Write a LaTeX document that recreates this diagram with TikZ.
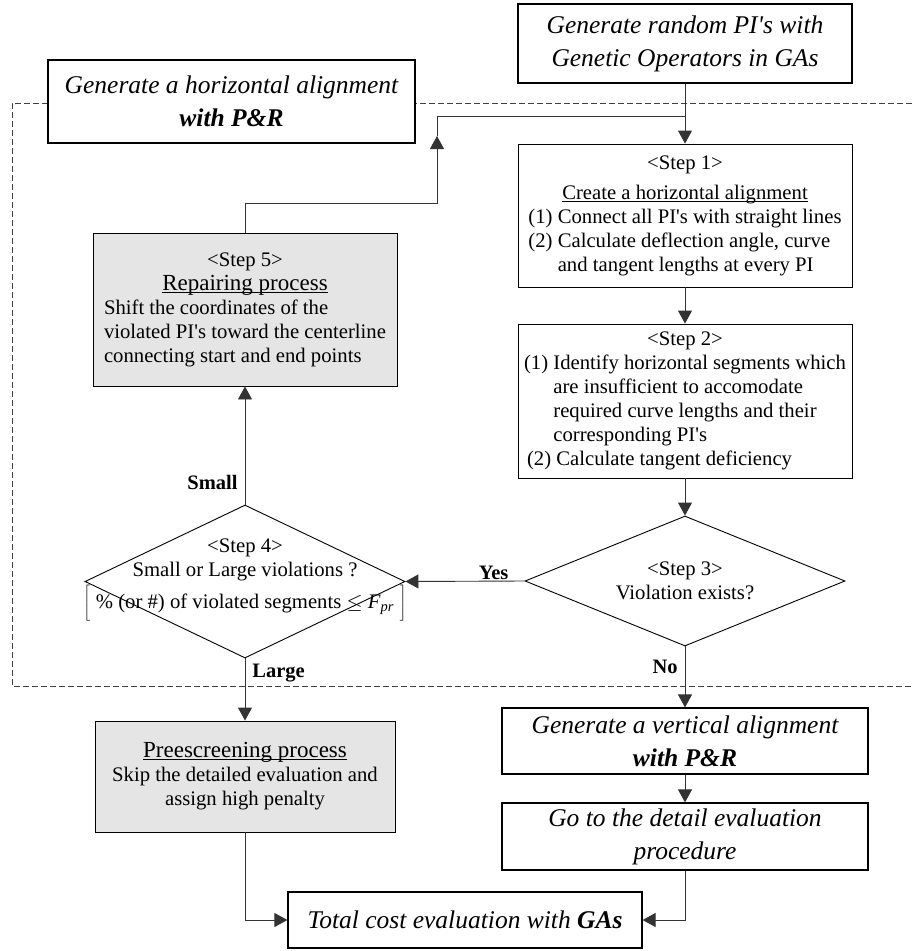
\documentclass[tikz,border=0pt]{standalone}
\usepackage{fontspec}
\setmainfont{Liberation Serif}
\usetikzlibrary{shapes.geometric,arrows.meta}
\newcommand{\bodyfont}{\fontsize{20.7}{24}\selectfont}
\newcommand{\headfont}{\fontsize{25.5}{33}\selectfont\itshape}
\newcommand{\titlefont}{\fontsize{23}{26}\selectfont}
\newcommand{\ctr}[1]{\multicolumn{1}{@{}c@{}}{#1}}
\newcommand{\ap}{\textquotesingle}
\newcommand{\uln}[1]{\underline{\raisebox{0pt}[\height][0pt]{#1}}}
\tikzset{
  box/.style={draw, line width=1.2pt, fill=white, inner sep=0pt, align=center},
  greybox/.style={box, fill=black!10},
  decision/.style={draw, diamond, line width=0.9pt, inner sep=0pt, fill=white},
  line/.style={draw=black!80, line width=0.9pt},
  arrow/.style={line, -{Triangle[length=13pt,width=14pt]}},
  tag/.style={font=\fontsize{20.5}{24}\selectfont\bfseries, inner sep=0pt},
  frame/.style={draw=black!75, line width=0.8pt, dash pattern=on 6pt off 3pt},
}
\begin{document}
\begin{tikzpicture}[x=1pt,y=-1pt]
  \useasboundingbox (0,0) rectangle (912,951);
  \draw[frame] (912,103) -- (12,103) -- (12,686) -- (912,686);
  \node[box, minimum width=334pt, minimum height=79pt, font=\headfont] (gen) at (685,43.5) {Generate random PI\ap s with\\Genetic Operators in GAs};
  \node[box, minimum width=367pt, minimum height=83pt, font=\headfont] (hor) at (231.5,101.5) {Generate a horizontal alignment\\\textbf{with P\&R}};
  \node[box, line width=0.9pt, minimum width=334pt, minimum height=143pt, font=\bodyfont] (s1) at (685,215.5) {\begin{tabular}{@{}l@{}}
    \ctr{<Step 1>}\\[6pt]
    \ctr{\uln{Create a horizontal alignment}}\\
    (1) Connect all PI\ap s with straight lines\\
    (2) Calculate deflection angle, curve\\
    \phantom{(2) }and tangent lengths at every PI
  \end{tabular}};
  \node[box, line width=0.9pt, minimum width=334pt, minimum height=154pt, font=\bodyfont] (s2) at (685,401) {\begin{tabular}{@{}l@{}}
    \ctr{<Step 2>}\\
    (1) Identify horizontal segments which\\
    \phantom{(1) }are insufficient to accomodate\\
    \phantom{(1) }required curve lengths and their\\
    \phantom{(1) }corresponding PI\ap s\\
    \hspace*{3pt}(2) Calculate tangent deficiency
  \end{tabular}};
  \node[decision, minimum width=320pt, minimum height=130pt] (s3) at (685,581) {};
  \node[font=\bodyfont, align=center, inner sep=0pt] (s3t) at (s3.center) {<Step 3>\\Violation exists?};
  \node[decision, minimum width=320pt, minimum height=153pt] (s4) at (245,581.5) {};
  \node[font=\bodyfont, align=center, inner sep=0pt] (s4t) at (245,580) {<Step 4>\\Small or Large violations ?\\[4pt]$\left[\rule[-9pt]{0pt}{31pt}\mbox{\;\% (or \#) of violated segments $\leq$ \textit{F}\textsubscript{\textit{pr}}\;}\right]$};
  \node[greybox, line width=0.9pt, minimum width=304pt, minimum height=153pt, font=\bodyfont] (s5) at (245,309.5) {\begin{tabular}{@{}l@{}}
    \ctr{<Step 5>}\\
    \ctr{\titlefont\uln{Repairing process}}\\
    Shift the coordinates of the\\
    violated PI\ap s toward the centerline\\
    connecting start and end points
  \end{tabular}};
  \node[greybox, line width=0.9pt, minimum width=300pt, minimum height=111pt, font=\bodyfont] (pre) at (245,776.5) {{\titlefont\uln{Preescreening process}}\\Skip the detailed evaluation and\\assign high penalty};
  \node[box, minimum width=366pt, minimum height=66pt, font=\headfont] (ver) at (685,741) {Generate a vertical alignment\\\textbf{with P\&R}};
  \node[box, minimum width=366pt, minimum height=67pt, font=\headfont] (det) at (685,836.5) {Go to the detail evaluation\\procedure};
  \node[box, minimum width=354pt, minimum height=56pt, font=\headfont] (tot) at (465,920) {Total cost evaluation with \textbf{GAs}};
  % connectors
  \coordinate (c1) at (437,203);
  \coordinate (c2) at (437,136);
  \coordinate (c3) at (685,116);
  \draw[arrow] (gen) -- (s1);
  \draw[arrow] (s1) -- (s2);
  \draw[arrow] (s2) -- (s3);
  \draw[arrow] (s3.west) -- node[tag, above=1pt, pos=0.26] (yes) {Yes} (s4.east);
  \draw[arrow] (s4.north) -- node[tag, left=7pt, pos=0.185] (small) {Small} (s5.south);
  \draw[arrow] (s4.south) -- node[tag, right=7pt, pos=0.24] (large) {Large} (pre.north);
  \draw[arrow] (s3.south) -- node[tag, left=7pt, pos=0.34] (no) {No} (ver.north);
  \draw[arrow] (ver) -- (det);
  \draw[arrow] (det.south) |- (tot.east);
  \draw[arrow] (pre.south) |- (tot.west);
  \draw[arrow] (s5.north) |- (c1) -- (c2);
  \draw[line] (c2) |- (c3);
\end{tikzpicture}
\end{document}
